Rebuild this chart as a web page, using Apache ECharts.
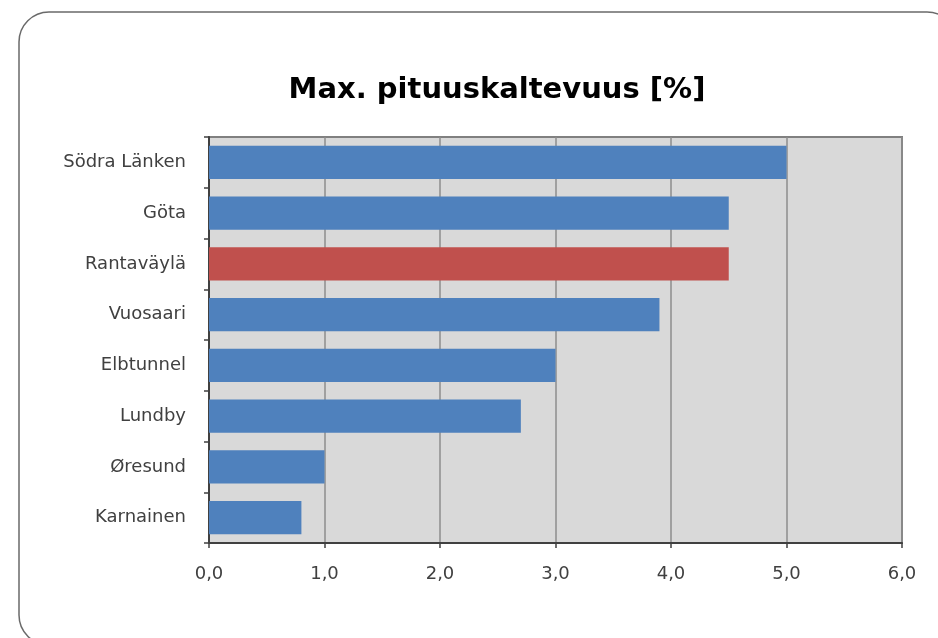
<!DOCTYPE html>
<html>
<head>
<meta charset="utf-8">
<script src="https://cdn.jsdelivr.net/npm/echarts@6/dist/echarts.min.js"></script>
<style>
  html, body { margin: 0; padding: 0; background: #fff; }
  #chart { width: 938px; height: 638px; }
</style>
</head>
<body>
<div id="chart"></div>
<script>
// Tunnels, listed top to bottom
const tunnels = ['Södra Länken', 'Göta', 'Rantaväylä', 'Vuosaari', 'Elbtunnel', 'Lundby', 'Øresund', 'Karnainen'];
// Maximum longitudinal gradient, %
const maxGradient = [5.0, 4.5, 4.5, 3.9, 3.0, 2.7, 1.0, 0.8];
// The highlighted tunnel
const highlighted = 'Rantaväylä';
const chartTitle = 'Max. pituuskaltevuus [%]';

const font = '"DejaVu Sans", sans-serif';
const chart = echarts.init(document.getElementById('chart'));

chart.setOption({
  animation: false,
  title: {
    text: chartTitle,
    left: 492,
    textAlign: 'center',
    top: 71,
    textStyle: { fontFamily: font, fontWeight: 'bold', fontSize: 29, color: '#000' }
  },
  graphic: [{
    type: 'rect',
    shape: { x: 19, y: 12, width: 938, height: 633, r: 30 },
    style: { fill: 'none', stroke: '#6a6a6a', lineWidth: 1.5 },
    z: -1
  }],
  grid: {
    left: 209, right: 36, top: 137, bottom: 95,
    show: true,
    backgroundColor: '#d9d9d9',
    borderColor: '#808080',
    borderWidth: 2
  },
  xAxis: {
    type: 'value',
    min: 0, max: 6, interval: 1,
    axisLine: { show: true, lineStyle: { color: '#404040', width: 2 } },
    axisTick: { show: true, length: 5, lineStyle: { color: '#404040', width: 1.5 } },
    splitLine: { show: true, lineStyle: { color: '#8c8c8c', width: 1.5 } },
    axisLabel: {
      margin: 22,
      fontFamily: font, fontSize: 18, color: '#404040',
      formatter: v => v.toFixed(1).replace('.', ',')
    }
  },
  yAxis: {
    type: 'category',
    inverse: true,
    data: tunnels,
    axisLine: { show: true, lineStyle: { color: '#404040', width: 2 } },
    axisTick: { show: true, length: 5, lineStyle: { color: '#404040', width: 1.5 } },
    axisLabel: { margin: 23, fontFamily: font, fontSize: 18, color: '#404040' }
  },
  series: [{
    type: 'bar',
    barCategoryGap: '34%',
    data: maxGradient.map((v, i) => ({
      value: v,
      itemStyle: { color: tunnels[i] === highlighted ? '#c0504d' : '#4f81bd' }
    }))
  }]
});
</script>
</body>
</html>
